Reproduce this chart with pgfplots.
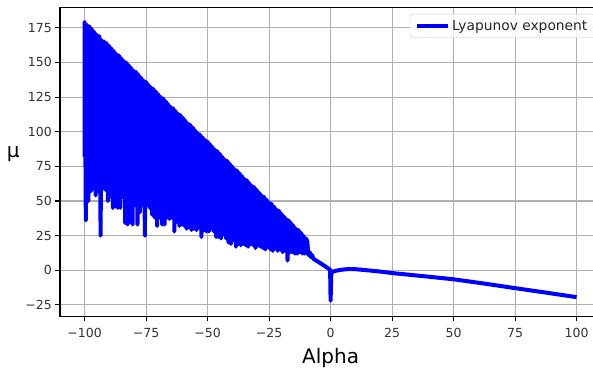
\documentclass[border=0pt]{standalone}
\usepackage{fontspec}
\setmainfont{DejaVu Sans}
\usepackage{pgfplots}
\pgfplotsset{compat=1.18}
\definecolor{gridc}{RGB}{176,176,176}
\definecolor{legc}{RGB}{204,204,204}
\begin{document}
\begin{tikzpicture}
\begin{axis}[
  name=ax,
  scale only axis,
  width=541.2bp, height=309.4bp,
  xmin=-110, xmax=110, ymin=-33.5, ymax=189.8,
  xtick={-100,-75,-50,-25,0,25,50,75,100},
  xticklabels={−100,−75,−50,−25,0,25,50,75,100},
  ytick={-25,0,25,50,75,100,125,150,175},
  yticklabels={−25,0,25,50,75,100,125,150,175},
  tick pos=left,
  tick align=outside,
  major tick length=4.7bp,
  every tick/.style={black, line width=1.07bp},
  grid=major,
  major grid style={gridc, line width=1.07bp},
  axis line style={black, line width=1.07bp},
  tick label style={font=\fontsize{12.5bp}{15bp}\selectfont, text=black!80},
  xticklabel style={yshift=-3bp},
  xlabel={Alpha},
  xlabel style={font=\fontsize{20bp}{24bp}\selectfont, yshift=-4bp},
  ylabel={μ},
  ylabel style={font=\fontsize{20bp}{24bp}\selectfont, rotate=-90, yshift=8bp, xshift=1bp},
  legend style={at={(1,1)}, anchor=north east, xshift=-6.7bp, yshift=-6.7bp, draw=legc, rounded corners=3bp, font=\fontsize{13.8bp}{16bp}\selectfont, text=black!85, fill=white, fill opacity=0.8, text opacity=1, inner xsep=5bp, inner ysep=4bp},
  legend image code/.code={\draw[#1] (-3bp,0bp) -- (28bp,0bp);},
]
\addplot[blue, line width=4bp, line join=round] table {
x y
-100 82
-100 179
-99.5 36
-99 177
-98.5 50
-98 176
-97.5 57
-97 174
-96.5 59
-96 172
-95.5 54
-95 170
-94.5 57
-94 169
-93.5 25
-93 166
-92.5 59
-92 165
-91.5 58
-91 164
-90.5 50
-90 162
-89.5 53
-89 160
-88.5 45
-88 158
-87.5 46
-87 156
-86.5 45
-86 155
-85.5 45
-85 153
-84.5 53
-84 151
-83.5 34
-83 150
-82.5 33
-82 148
-81.5 35
-81 146
-80.5 33
-80 144
-79.5 47
-79 143
-78.5 33
-78 141
-77.5 42
-77 139
-76.5 47
-76 137
-75.5 25
-75 136
-74.5 47
-74 134
-73.5 45
-73 132
-72.5 40
-72 131
-71.5 38
-71 129
-70.5 32
-70 127
-69.5 38
-69 125
-68.5 33
-68 124
-67.5 33
-67 122
-66.5 38
-66 120
-65.5 37
-65 118
-64.5 38
-64 117
-63.5 28
-63 115
-62.5 35
-62 113
-61.5 32
-61 112
-60.5 33
-60 110
-59.5 32
-59 108
-58.5 30
-58 106
-57.5 31
-57 105
-56.5 29
-56 103
-55.5 30
-55 101
-54.5 29
-54 99
-53.5 31
-53 98
-52.5 24
-52 96
-51.5 29
-51 94
-50.5 28
-50 93
-49.5 28
-49 91
-48.5 30
-48 89
-47.5 28
-47 87
-46.5 24
-46 86
-45.5 24
-45 84
-44.5 23
-44 82
-43.5 26
-43 80
-42.5 23
-42 79
-41.5 20
-41 77
-40.5 19
-40 75
-39.5 22
-39 73
-38.5 17
-38 72
-37.5 19
-37 70
-36.5 18
-36 68
-35.5 19
-35 66
-34.5 18
-34 65
-33.5 17
-33 63
-32.5 19
-32 61
-31.5 18
-31 60
-30.5 16
-30 58
-29.5 18
-29 56
-28.5 17
-28 54
-27.5 16
-27 53
-26.5 15
-26 51
-25.5 17
-25 49
-24.5 15
-24 48
-23.5 14
-23 46
-22.5 16
-22 44
-21.5 14
-21 43
-20.5 15
-20 41
-19.5 13
-19 39
-18.5 14
-18 37
-17.5 7
-17 36
-16.5 13
-16 34
-15.5 13
-15 32
-14.5 12
-14 30
-13.5 12
-13 29
-12.5 13
-12 27
-11.5 12
-11 25
-10.5 12
-10 23
-9.5 21
-9 11
-8.5 13
-8 9.5
-7.5 11
-7 8.3
-6 7.2
-5 6.1
-4 5
-3 3.8
-2 2.6
-1 1.4
-0.2 0.4
0 -22
0.3 -1.5
1 -1
2 -0.4
4 0.3
6 0.7
8 0.9
10 0.8
15 0
20 -0.9
25 -2
37.5 -4.2
50 -6.5
62.5 -9.6
75 -12.9
87.5 -16.1
100 -19.4
};
\addlegendentry{Lyapunov exponent}
\end{axis}
\pgfresetboundingbox
\useasboundingbox ([xshift=-60bp,yshift=-52.3bp]ax.south west) rectangle ([xshift=533bp,yshift=7.3bp]ax.north west);
\end{tikzpicture}
\end{document}
